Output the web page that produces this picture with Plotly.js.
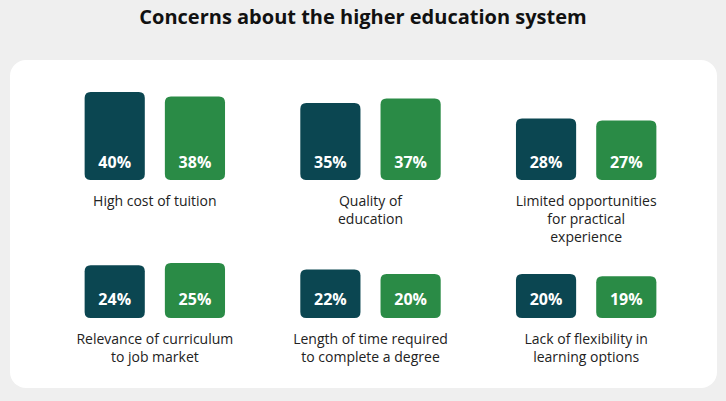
<!DOCTYPE html>
<html>
<head>
<meta charset="utf-8">
<script src="https://cdn.plot.ly/plotly-3.0.1.min.js"></script>
<style>
    html, body { margin: 0; padding: 0; background: #efefef; }
    #wrap { position: relative; width: 726px; height: 401px; }
    #card { position: absolute; left: 10px; top: 60px; width: 707px; height: 328px; background: #fff; border-radius: 16px; }
    #chart { position: absolute; left: 0; top: 0; width: 726px; height: 401px; }
</style>
</head>
<body>
<div id="wrap">
    <div id="card"></div>
    <div id="chart"></div>
</div>
<script>
const categories = [
    "High cost of tuition",
    "Quality of<br>education",
    "Limited opportunities<br>for practical<br>experience",
    "Relevance of curriculum<br>to job market",
    "Length of time required<br>to complete a degree",
    "Lack of flexibility in<br>learning options"
];
const seriesA = [40, 35, 28, 24, 22, 20];
const seriesB = [38, 37, 27, 25, 20, 19];

const DARK = "#0b4651";
const GREEN = "#2a8b46";
const LABEL_Y = 7.5; // where the % labels sit, in axis units

const rows = [
    {from: 0, to: 3, xa: "x", ya: "y"},
    {from: 3, to: 6, xa: "x2", ya: "y2"}
];

const traces = [];
rows.forEach(row => {
    const cats = categories.slice(row.from, row.to);
    [[seriesA, DARK, "a"], [seriesB, GREEN, "b"]].forEach(([vals, color, grp]) => {
        const v = vals.slice(row.from, row.to);
        traces.push({
            type: "bar", x: cats, y: v, xaxis: row.xa, yaxis: row.ya,
            offsetgroup: grp, marker: {color: color}, hoverinfo: "skip"
        });
        traces.push({
            type: "scatter", mode: "text", x: cats, y: v.map(() => LABEL_Y),
            text: v.map(n => n + "%"), xaxis: row.xa, yaxis: row.ya,
            offsetgroup: grp, hoverinfo: "skip",
            textfont: {family: "Open Sans", size: 16, color: "#fff", weight: 700}
        });
    });
});

const xStyle = {
    range: [-0.5, 2.5], showgrid: false, zeroline: false, showline: false,
    ticks: "", ticklabelstandoff: 11,
    tickfont: {family: "Open Sans", size: 14, color: "#222"}
};
const yStyle = {range: [0, 45], visible: false, fixedrange: true};

const layout = {
    width: 726,
    height: 401,
    margin: {l: 47, r: 32, t: 0, b: 0},
    paper_bgcolor: "rgba(0,0,0,0)",
    plot_bgcolor: "rgba(0,0,0,0)",
    showlegend: false,
    barmode: "group",
    scattermode: "group",
    bargap: 0.256,
    bargroupgap: 0.25,
    scattergap: 0.256,
    barcornerradius: 6,
    title: {
        text: "<b>Concerns about the higher education system</b>",
        font: {family: "Open Sans", size: 20, color: "#111"},
        x: 0.5, xref: "container", y: 0.958, yref: "container", yanchor: "middle"
    },
    xaxis: Object.assign({anchor: "y"}, xStyle),
    yaxis: Object.assign({domain: [0.5511, 0.798], anchor: "x"}, yStyle),
    xaxis2: Object.assign({anchor: "y2"}, xStyle),
    yaxis2: Object.assign({domain: [0.207, 0.4539], anchor: "x2"}, yStyle)
};

Plotly.newPlot("chart", traces, layout, {displayModeBar: false, staticPlot: true}).then(() => {
    // round the bottom corners too
    document.querySelectorAll("#chart .barlayer .point path").forEach(p => {
        const b = p.getBBox();
        const r = 6;
        const x0 = b.x, y0 = b.y, x1 = b.x + b.width, y1 = b.y + b.height;
        p.setAttribute("d",
            `M${x0 + r},${y0}H${x1 - r}Q${x1},${y0} ${x1},${y0 + r}V${y1 - r}Q${x1},${y1} ${x1 - r},${y1}` +
            `H${x0 + r}Q${x0},${y1} ${x0},${y1 - r}V${y0 + r}Q${x0},${y0} ${x0 + r},${y0}Z`);
    });
});
</script>
</body>
</html>
